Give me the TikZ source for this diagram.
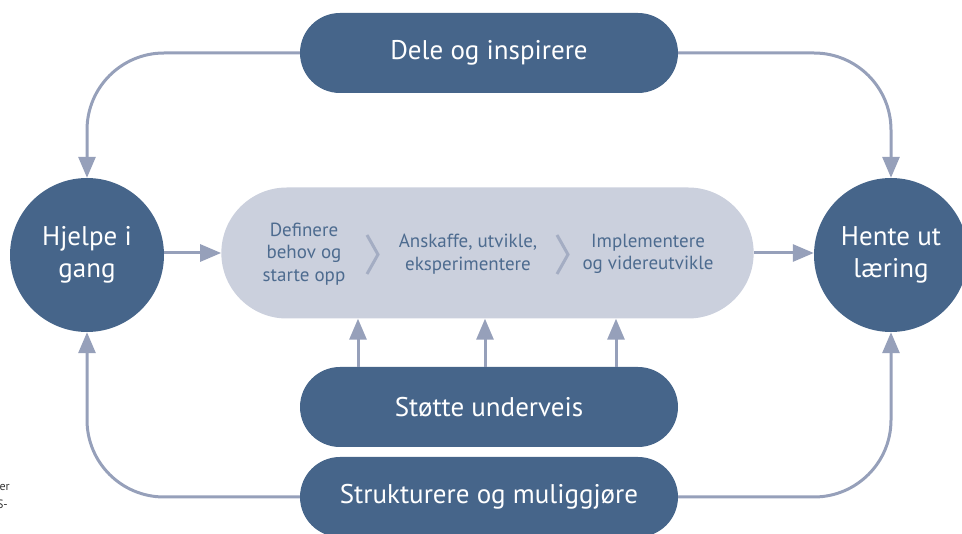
\documentclass[tikz,border=0pt]{standalone}
\usepackage{fontspec}
\setmainfont{PT Sans}
\usetikzlibrary{shapes.misc,arrows.meta}
\definecolor{deepblue}{RGB}{70,101,138}
\definecolor{paleblue}{RGB}{203,208,221}
\definecolor{linkgray}{RGB}{150,160,186}
\definecolor{chevgray}{RGB}{164,173,195}
\definecolor{phasetext}{RGB}{77,107,143}

\begin{document}
\begin{tikzpicture}[x=1pt,y=-1pt,
	pill/.style={rounded rectangle, fill=deepblue, text=white, minimum width=378pt, minimum height=80pt, inner sep=0pt, font=\fontsize{27}{32}\selectfont},
	hub/.style={circle, fill=deepblue, text=white, minimum size=154pt, inner sep=0pt, align=center, font=\fontsize{27}{32}\selectfont},
	phase/.style={align=center, text=phasetext, inner sep=0pt, font=\fontsize{19}{22.5}\selectfont},
	pile/.style={draw=linkgray, line width=3pt, -{Triangle[length=21pt,width=17pt]}},
	chev/.style={draw=chevgray, line width=3pt}]

	\useasboundingbox (0,0) rectangle (962,534);

	% Hubs
	\node[hub] (hjelpe) at (87,255) {Hjelpe i\\gang};
	\node[hub] (hente) at (891,255) {Hente ut\\læring};

	% Pills
	\node[pill] (dele) at (489,53) {Dele og inspirere};
	\node[pill] (stotte) at (489,407) {Støtte underveis};
	\node[pill] (struk) at (489,497) {Strukturere og muliggjøre};

	% Work process
	\node[rounded rectangle, fill=paleblue, minimum width=539pt, minimum height=131pt] (work) at (487.5,253) {};
	\node[phase] (definere) at (304,254) {Definere\\behov og\\starte opp};
	\node[phase] (anskaffe) at (468,254) {Anskaffe, utvikle,\\eksperimentere};
	\node[phase] (impl) at (648,254) {Implementere\\og videreutvikle};
	\draw[chev] (367,235) -- (378,254.5) -- (367,274);
	\draw[chev] (557,235) -- (568,254.5) -- (557,274);

	% Arrows
	\draw[pile] (hjelpe.east |- work.west) -- (work.west);
	\draw[pile] (work.east) -- (hente.west |- work.east);
	\draw[pile, rounded corners=77pt] (dele.west) -| (hjelpe.north);
	\draw[pile, rounded corners=77pt] (dele.east) -| (hente.north);
	\draw[pile, rounded corners=77pt] (struk.west) -| (hjelpe.south);
	\draw[pile, rounded corners=77pt] (struk.east) -| (hente.south);
	\foreach \dx in {-131,-4,127}
		\draw[pile] ([xshift=\dx pt]stotte.north) -- ([xshift=\dx pt]stotte.north |- work.south);

	% Caption fragments
	\node[anchor=east, inner sep=0pt, font=\fontsize{12}{14}\selectfont, text=black!80] (frag1) at (10,488) {er};
	\node[anchor=east, inner sep=0pt, font=\fontsize{12}{14}\selectfont, text=black!80] (frag2) at (8,504) {S-};

\end{tikzpicture}
\end{document}
